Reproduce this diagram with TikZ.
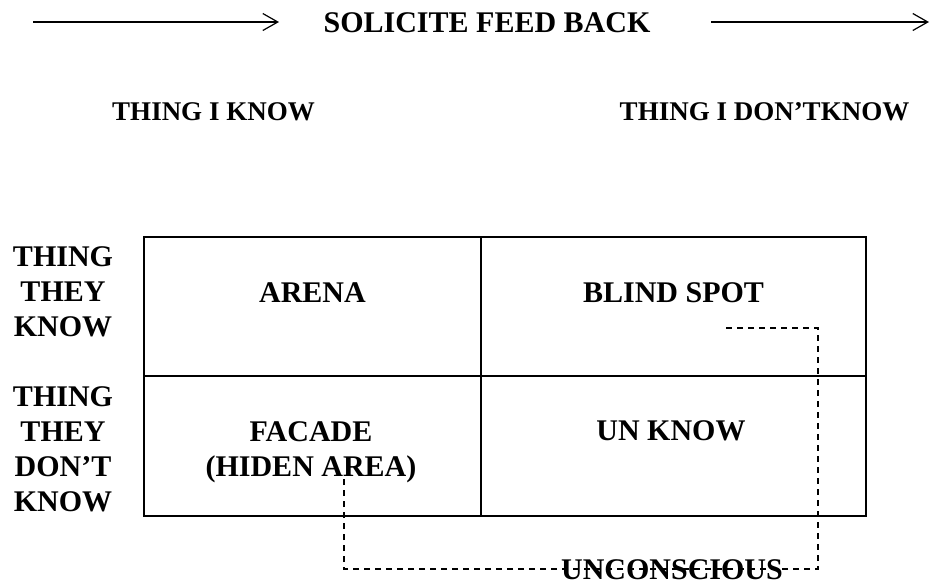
\documentclass[tikz,border=0pt]{standalone}
\usepackage{fontspec}
\setmainfont{Liberation Serif}
\usetikzlibrary{arrows.meta}
\begin{document}
\begin{tikzpicture}[x=1pt,y=-1pt,
  body/.style={font=\fontsize{30}{35}\selectfont\bfseries, inner sep=0pt, anchor=base, align=center},
  head/.style={font=\fontsize{27}{32}\selectfont\bfseries, inner sep=0pt, anchor=base},
  grid/.style={line width=2.2pt},
  flow/.style={line width=1.6pt, -{Straight Barb[length=15pt,width=17pt,line width=1.2pt]}},
  zone/.style={dash pattern=on 6pt off 5pt, line width=1.3pt}
]
\useasboundingbox (0,0) rectangle (932,584);

% feedback direction
\node[body] (title) at (487,32) {SOLICITE FEED BACK};
\coordinate (a1s) at (33,22);
\coordinate (a1e) at (279,22);
\coordinate (a2s) at (711,22);
\coordinate (a2e) at (929,22);
\draw[flow] (a1s) -- (a1e);
\draw[flow] (a2s) -- (a2e);

% column headings
\node[head] (know) at (213.5,120) {THING I KNOW};
\node[head] (dontknow) at (764.5,120) {THING I DON’TKNOW};

% the window grid
\draw[grid] (144,237) rectangle (866,516);
\draw[grid] (481,237) -- (481,516);
\draw[grid] (144,376) -- (866,376);

% row headings (anchored on the baseline of their last line)
\node[body] (tk) at (63,336.7) {THING\\THEY\\KNOW};
\node[body] (tdk) at (63,511.7) {THING\\THEY\\DON’T\\KNOW};

% cell labels
\node[body] (arena) at (312.5,302) {ARENA};
\node[body] (blind) at (673.5,302) {BLIND SPOT};
\node[body] (facade) at (311,476) {FACADE\\(HIDEN AREA)};
\node[body] (unknown) at (671,440) {UN KNOW};

% unconscious bracket
\coordinate (z1) at (726,328);
\coordinate (z2) at (818,328);
\coordinate (z3) at (818,569);
\coordinate (z4) at (344,569);
\coordinate (z5) at (344,474);
\draw[zone] (z1) -- (z2) -- (z3) -- (z4) -- (z5);
\node[body] (uncon) at (672,579) {UNCONSCIOUS};
\end{tikzpicture}
\end{document}
